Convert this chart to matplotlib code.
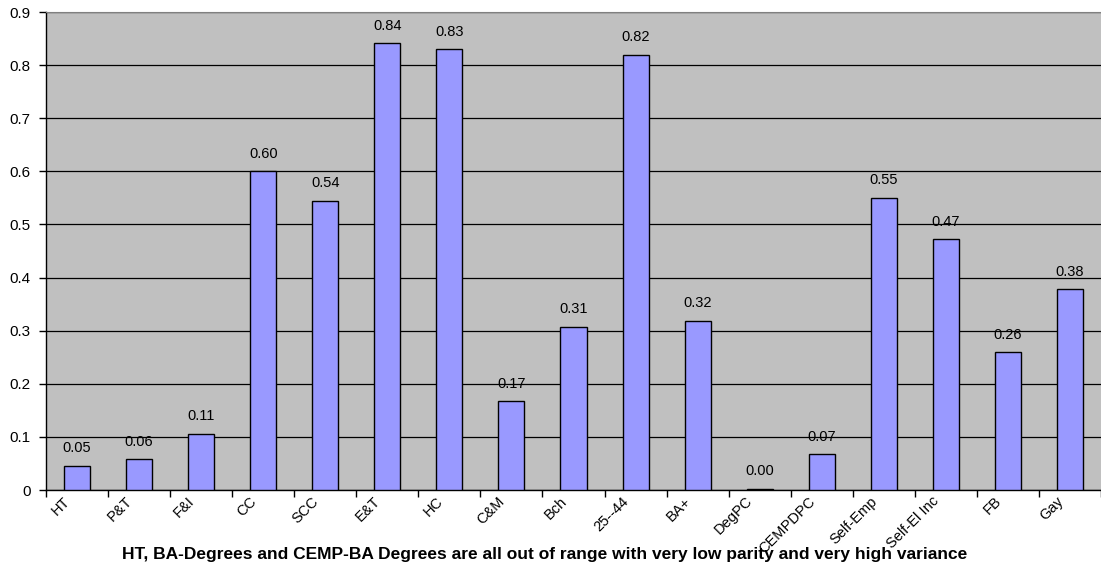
import matplotlib

matplotlib.use("Agg")
import matplotlib.pyplot as plt
import matplotlib.transforms as mtransforms
import numpy as np

plt.rcParams["font.family"] = ["Liberation Sans", "DejaVu Sans"]

# ── data ──────────────────────────────────────────
categories = ["HT", "P&T", "F&I", "CC", "SCC", "E&T", "HC", "C&M", "Bch",
              "25--44", "BA+", "DegPC", "CEMPDPC", "Self-Emp", "Self-El Inc",
              "FB", "Gay"]
values = [0.046, 0.058, 0.106, 0.600, 0.544, 0.841, 0.830, 0.167, 0.307,
          0.819, 0.318, 0.002, 0.067, 0.550, 0.472, 0.259, 0.378]
y_ticks = [0, 0.1, 0.2, 0.3, 0.4, 0.5, 0.6, 0.7, 0.8, 0.9]
caption = ("HT, BA-Degrees and CEMP-BA Degrees are all out of range "
           "with very low parity and very high variance")

# ── chart ─────────────────────────────────────────
fig = plt.figure(figsize=(11.01, 5.65), dpi=100)
ax = fig.add_axes([46 / 1101, 1 - 490 / 565, 1 - 46 / 1101, (490 - 12) / 565])
ax.set_facecolor("#C0C0C0")

x = np.arange(len(categories))
ax.bar(x, values, 0.42, color="#9999FF", edgecolor="black", linewidth=1.0,
       zorder=3)
for xi, v in zip(x, values):
    ax.text(xi, v + 0.02, f"{v:.2f}", ha="center", va="bottom",
            fontsize=10.5, zorder=4)

ax.set_xlim(-0.5, len(categories) - 0.5)
ax.set_ylim(0, 0.9)
ax.set_yticks(y_ticks)
ax.set_yticklabels(["0"] + [f"{t:.1f}" for t in y_ticks[1:]], fontsize=11)
ax.yaxis.grid(True, color="black", linewidth=0.9, zorder=1)

# tick marks on the category boundaries, slanted names just left of centre
ax.set_xticks(np.arange(len(categories) + 1) - 0.5)
ax.set_xticklabels([])
ax.tick_params(axis="x", length=5, width=1, direction="out")
ax.tick_params(axis="y", length=5, width=1, direction="out", pad=6)
shift = mtransforms.ScaledTranslation(-0.09, -0.09, fig.dpi_scale_trans)
for xi, name in zip(x, categories):
    ax.text(xi, 0, name, transform=ax.get_xaxis_transform() + shift,
            rotation=45, ha="right", va="center", rotation_mode="anchor",
            fontsize=10.5, clip_on=False)

ax.spines["right"].set_visible(False)
ax.spines["top"].set_color("#808080")
ax.spines["left"].set_linewidth(1.0)
ax.spines["bottom"].set_linewidth(1.0)

fig.text(0.495, 1 - 554 / 565, caption, ha="center", va="center",
         fontsize=12.5, fontweight="bold")

fig.savefig("out.png", dpi=100)
